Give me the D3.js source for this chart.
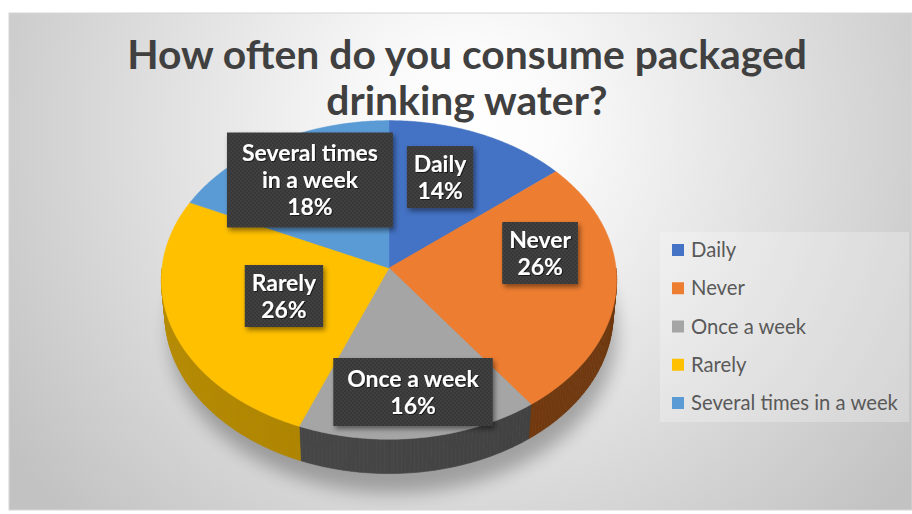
<!DOCTYPE html>
<html><head><meta charset="utf-8">
<script src="https://cdn.jsdelivr.net/npm/d3@7"></script>
<style>body{margin:0;background:#fff;} svg{display:block}</style>
</head><body>
<svg id="chart" width="912" height="514"></svg>
<script>
// ---- data ----
const categories = ["Daily", "Never", "Once a week", "Rarely", "Several times in a week"];
const values = [14, 26, 16, 26, 18];
const labelLines = [["Daily"], ["Never"], ["Once a week"], ["Rarely"], ["Several times", "in a week"]];
const titleLines = ["How often do you consume packaged", "drinking water?"];
const colors = ["#4472C4", "#ED7D31", "#A5A5A5", "#FFC000", "#5B9BD5"];
const sideColors = ["#2c4f8f", "#7B3E10", "#474747", "#B08600", "#3c6e9e"];

// ---- layout constants ----
const labelRadius = [0.644, 0.677, 0.746, 0.489, 0.684];
const labelAngleShift = [-3.8, -15.3, -0.5, 0.7, 0.3]; // degrees
const labelPad = [[7, 4], [7, 4], [14, 7], [7, 4], [15, 7]];
const FONT = "Lato, 'Open Sans', sans-serif";
const P = {cx: 389, cy: 268, R: 227, sinA: 0.698, cosA: 0.716, D: 9.56, h: 0.215};

const svg = d3.select("#chart");
const defs = svg.append("defs");

// background
const bg = defs.append("radialGradient").attr("id", "bg").attr("gradientUnits", "userSpaceOnUse")
  .attr("cx", 470).attr("cy", 130).attr("r", 560);
bg.append("stop").attr("offset", 0).attr("stop-color", "#ffffff");
bg.append("stop").attr("offset", 0.15).attr("stop-color", "#fbfbfb");
bg.append("stop").attr("offset", 1).attr("stop-color", "#c2c2c2");
svg.append("rect").attr("x", 9).attr("y", 13).attr("width", 903).attr("height", 497)
  .attr("fill", "url(#bg)").attr("stroke", "#d6d6d6");

// filters
const blur = defs.append("filter").attr("id", "blur").attr("x", "-20%").attr("y", "-20%").attr("width", "140%").attr("height", "140%");
blur.append("feGaussianBlur").attr("stdDeviation", 9);
const ds = defs.append("filter").attr("id", "ds").attr("x", "-20%").attr("y", "-20%").attr("width", "140%").attr("height", "150%");
ds.append("feDropShadow").attr("dx", 2).attr("dy", 3).attr("stdDeviation", 2.5).attr("flood-color", "#000").attr("flood-opacity", 0.45);
const ts = defs.append("filter").attr("id", "ts");
ts.append("feDropShadow").attr("dx", 1).attr("dy", 1).attr("stdDeviation", 0.6).attr("flood-color", "#000").attr("flood-opacity", 0.6);

// dotted label texture
const pat = defs.append("pattern").attr("id", "dots").attr("patternUnits", "userSpaceOnUse").attr("width", 4).attr("height", 4);
pat.append("rect").attr("width", 4).attr("height", 4).attr("fill", "#393939");
pat.append("circle").attr("cx", 1).attr("cy", 1).attr("r", 0.8).attr("fill", "#4b4b4b");
pat.append("circle").attr("cx", 3).attr("cy", 3).attr("r", 0.8).attr("fill", "#4b4b4b");

// projection of a point on the tilted disc
function proj(theta, r, Y) {
  const X = r * Math.sin(theta), Z = -r * Math.cos(theta);
  const zc = Z * P.cosA + Y * P.sinA;
  const s = P.D / (P.D - zc);
  return [P.cx + P.R * X * s, P.cy + P.R * (Z * P.sinA - Y * P.cosA) * s];
}

// title
const title = svg.append("g");
const tMeasure = title.append("text").attr("font-family", FONT).attr("font-weight", 700)
  .attr("font-size", 100).text(titleLines[0]);
const tw = tMeasure.node().getComputedTextLength();
tMeasure.remove();
const titleSize = 100 * 680 / tw;
title.selectAll("text").data(titleLines).join("text")
  .attr("x", 467).attr("y", (d, i) => 69 + i * 46)
  .attr("text-anchor", "middle").attr("font-family", FONT).attr("font-weight", 700)
  .attr("font-size", titleSize).attr("fill", "#404040").text(d => d);

// pie
const pie = d3.pie().sort(null).value(d => d);
const arcs = pie(values);

// shadow under pie
const shadowPts = d3.range(0, 361, 3).map(a => proj(a * Math.PI / 180, 1.0, -P.h - 0.06));
svg.append("path").attr("d", d3.line()(shadowPts.map(p => [p[0] + 4, p[1] + 10])) + "Z")
  .attr("fill", "#000").attr("opacity", 0.28).attr("filter", "url(#blur)");

// sides
const sideG = svg.append("g");
const step = Math.PI / 180;
arcs.forEach((a, i) => {
  const a0 = Math.max(a.startAngle, Math.PI / 2), a1 = Math.min(a.endAngle, 3 * Math.PI / 2);
  if (a1 <= a0) return;
  const base = d3.color(sideColors[i]);
  for (let t = a0; t < a1; t += step) {
    const t2 = Math.min(t + step, a1);
    const tm = (t + t2) / 2;
    const k = (1 - Math.sin(tm)) / 2; // 0 right .. 1 left
    const c = d3.interpolateRgb(base.darker(0.3), base.brighter(0.1))(k);
    const pts = [proj(t, 1, 0), proj(t2, 1, 0), proj(t2, 1, -P.h), proj(t, 1, -P.h)];
    sideG.append("path").attr("d", d3.line()(pts) + "Z").attr("fill", c).attr("stroke", c).attr("stroke-width", 0.6);
  }
});

// top faces
const topG = svg.append("g");
arcs.forEach((a, i) => {
  const n = Math.max(2, Math.ceil((a.endAngle - a.startAngle) / (Math.PI / 360)));
  const pts = [[P.cx, P.cy]].concat(d3.range(n + 1).map(j => proj(a.startAngle + (a.endAngle - a.startAngle) * j / n, 1, 0)));
  topG.append("path").attr("d", d3.line()(pts) + "Z").attr("fill", colors[i])
    .attr("stroke", colors[i]).attr("stroke-width", 0.5);
});

// data labels
const lblG = svg.append("g");
const lm = lblG.append("text").attr("font-family", FONT).attr("font-weight", 700).attr("font-size", 100).text("Several times");
const lw = lm.node().getComputedTextLength(); lm.remove();
const lblSize = 100 * 136 / lw;
const lh = 27;
const total = d3.sum(values);
arcs.forEach((a, i) => {
  const mid = (a.startAngle + a.endAngle) / 2 + labelAngleShift[i] * Math.PI / 180;
  const [x, y] = proj(mid, labelRadius[i], 0);
  const lines = labelLines[i].concat([Math.round(values[i] / total * 100) + "%"]);
  const g = lblG.append("g");
  const texts = g.selectAll("text").data(lines).join("text")
    .attr("x", x).attr("y", (d, j) => y + (j - (lines.length - 1) / 2) * lh + 0.35 * lblSize)
    .attr("text-anchor", "middle").attr("font-family", FONT).attr("font-weight", 700)
    .attr("font-size", lblSize).attr("fill", "#ffffff").attr("filter", "url(#ts)").text(d => d);
  const w = d3.max(texts.nodes(), n => n.getComputedTextLength());
  const bw = w + 2 * labelPad[i][0];
  const bh = lines.length * lh + 2 * labelPad[i][1];
  g.insert("rect", "text").attr("x", x - bw / 2).attr("y", y - bh / 2).attr("width", bw).attr("height", bh)
    .attr("fill", "url(#dots)").attr("filter", "url(#ds)");
});

// legend
const legG = svg.append("g");
legG.append("rect").attr("x", 660).attr("y", 232).attr("width", 249).attr("height", 190)
  .attr("fill", "#ffffff").attr("opacity", 0.25);
const gm = legG.append("text").attr("font-family", FONT).attr("font-size", 100).text(categories[4]);
const gw = gm.node().getComputedTextLength(); gm.remove();
const legSize = 100 * 207 / gw;
const legY = d3.scalePoint().domain(categories).range([250, 403]);
const items = legG.selectAll("g.item").data(categories).join("g").attr("class", "item");
items.append("rect").attr("x", 672).attr("y", d => legY(d) - 6).attr("width", 12).attr("height", 12)
  .attr("fill", (d, i) => colors[i]);
items.append("text").attr("x", 691).attr("y", d => legY(d) + 0.35 * legSize)
  .attr("font-family", FONT).attr("font-size", legSize).attr("fill", "#595959").text(d => d);
</script>
</body></html>
